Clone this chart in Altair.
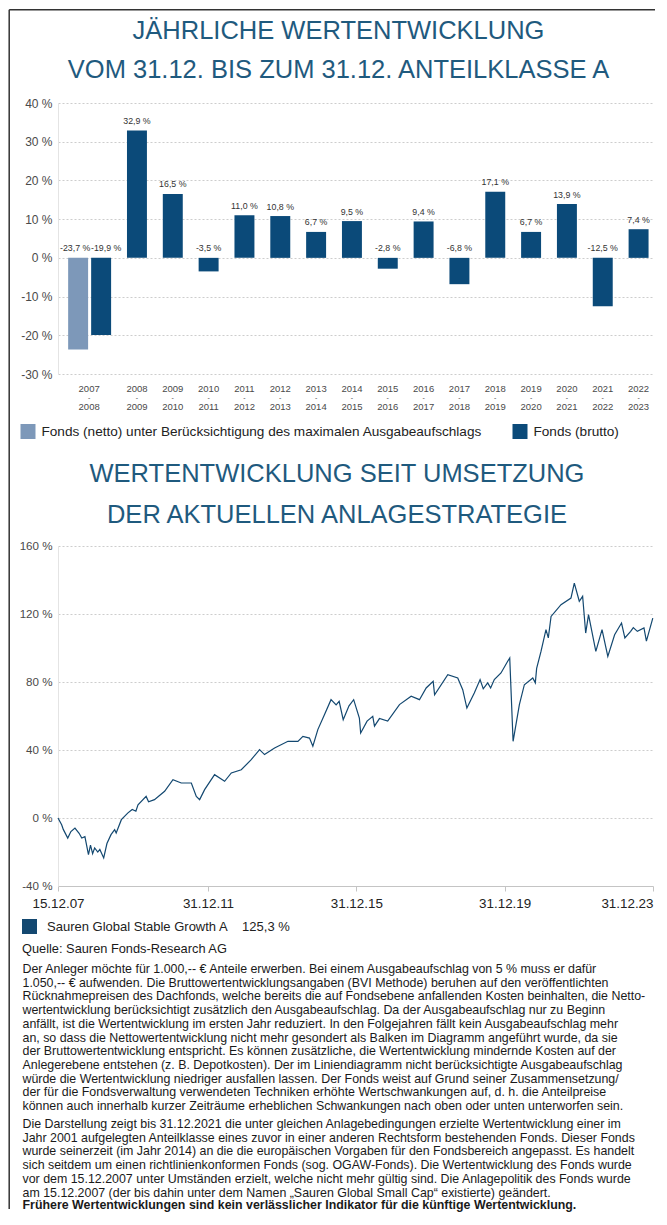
import altair as alt
import pandas as pd

# ---------------- data ----------------
PERIODS = ["2007-2008", "2008-2009", "2009-2010", "2010-2011", "2011-2012", "2012-2013",
           "2013-2014", "2014-2015", "2015-2016", "2016-2017", "2017-2018", "2018-2019",
           "2019-2020", "2020-2021", "2021-2022", "2022-2023"]
BRUTTO = [-19.9, 32.9, 16.5, -3.5, 11.0, 10.8, 6.7, 9.5, -2.8, 9.4, -6.8, 17.1, 6.7, 13.9, -12.5, 7.4]
NETTO_PERIODS = ["2007-2008"]
NETTO = [-23.7]
SERIES_NETTO = "Fonds (netto) unter Berücksichtigung des maximalen Ausgabeaufschlags"
SERIES_BRUTTO = "Fonds (brutto)"
BAR_TICKS = [-30, -20, -10, 0, 10, 20, 30, 40]

LINE_DATES = [
    "2007-12-15", "2008-01-20", "2008-02-05", "2008-03-20", "2008-04-20", "2008-05-30",
    "2008-07-10", "2008-08-05", "2008-09-05", "2008-10-10", "2008-10-30", "2008-11-20",
    "2008-12-10", "2009-01-10", "2009-01-30", "2009-03-09", "2009-04-10", "2009-05-20",
    "2009-06-25", "2009-07-10", "2009-08-30", "2009-11-03", "2009-12-15", "2010-01-20",
    "2010-02-10", "2010-05-01", "2010-05-25", "2010-07-22", "2010-10-30", "2011-01-20",
    "2011-04-12", "2011-07-20", "2011-09-07", "2011-10-10", "2011-11-28", "2012-03-05",
    "2012-06-12", "2012-08-17", "2012-11-23", "2013-03-01", "2013-05-22", "2013-07-10",
    "2013-10-17", "2014-02-26", "2014-06-04", "2014-07-23", "2014-09-26", "2014-10-29",
    "2014-12-17", "2015-02-20", "2015-04-26", "2015-06-15", "2015-07-15", "2015-08-24",
    "2015-10-20", "2015-12-05", "2016-01-30", "2016-02-12", "2016-04-15", "2016-06-10",
    "2016-06-27", "2016-08-15", "2016-11-04", "2017-02-28", "2017-06-23", "2017-09-13",
    "2017-11-18", "2018-01-26", "2018-02-09", "2018-06-19", "2018-09-25", "2018-11-13",
    "2018-12-24", "2019-03-07", "2019-05-03", "2019-06-03", "2019-07-17", "2019-08-15",
    "2019-09-20", "2019-11-25", "2020-01-30", "2020-02-19", "2020-03-23", "2020-05-24",
    "2020-07-12", "2020-10-03", "2020-10-28", "2020-11-10", "2020-12-23", "2021-02-10",
    "2021-03-05", "2021-04-01", "2021-07-08", "2021-10-14", "2021-11-16", "2022-01-04",
    "2022-02-06", "2022-03-08", "2022-04-05", "2022-06-16", "2022-08-16", "2022-10-12",
    "2022-12-18", "2023-02-24", "2023-03-29", "2023-05-25", "2023-06-20", "2023-07-30",
    "2023-10-03", "2023-10-27", "2023-12-29"]
LINE_VALUES = [
    0.0, -4.0, -6.7, -11.8, -8.0, -5.9,
    -9.0, -11.8, -11.0, -21.5, -16.0, -21.0,
    -17.6, -20.0, -18.5, -23.5, -15.0, -9.8,
    -6.9, -8.8, -1.0, 3.0, 5.0, 4.0,
    7.8, 12.7, 9.5, 10.8, 15.7, 22.5,
    20.6, 20.6, 12.7, 10.8, 16.7, 25.5,
    21.6, 26.5, 28.4, 34.3, 40.2, 37.3,
    41.2, 45.1, 45.1, 48.0, 47.0, 42.2,
    52.0, 60.8, 69.6, 66.5, 68.6, 57.8,
    66.0, 69.6, 58.8, 50.0, 57.0, 59.8,
    54.0, 58.5, 57.0, 66.7, 71.6, 69.6,
    76.5, 80.4, 72.5, 84.3, 82.4, 75.5,
    64.7, 73.5, 81.4, 76.0, 79.5, 76.5,
    81.4, 85.3, 92.2, 94.1, 45.1, 66.7,
    78.4, 82.4, 79.5, 88.0, 98.0, 110.8,
    106.0, 118.6, 125.5, 129.4, 138.2, 127.5,
    130.4, 108.8, 119.6, 98.0, 110.8, 95.1,
    107.8, 114.7, 105.9, 109.8, 112.0, 109.8,
    111.8, 104.0, 117.6]
LINE_NAME = "Sauren Global Stable Growth A"
LINE_TOTAL = "125,3 %"
LINE_Y_TICKS = [-40, 0, 40, 80, 120, 160]

TITLE1 = ["JÄHRLICHE WERTENTWICKLUNG", "VOM 31.12. BIS ZUM 31.12. ANTEILKLASSE A"]
TITLE2 = ["WERTENTWICKLUNG SEIT UMSETZUNG", "DER AKTUELLEN ANLAGESTRATEGIE"]
SOURCE = ["Quelle: Sauren Fonds-Research AG"]
PARA1 = [
    "Der Anleger möchte für 1.000,-- € Anteile erwerben. Bei einem Ausgabeaufschlag von 5 % muss er dafür",
    "1.050,-- € aufwenden. Die Bruttowertentwicklungsangaben (BVI Methode) beruhen auf den veröffentlichten",
    "Rücknahmepreisen des Dachfonds, welche bereits die auf Fondsebene anfallenden Kosten beinhalten, die Netto-",
    "wertentwicklung berücksichtigt zusätzlich den Ausgabeaufschlag. Da der Ausgabeaufschlag nur zu Beginn",
    "anfällt, ist die Wertentwicklung im ersten Jahr reduziert. In den Folgejahren fällt kein Ausgabeaufschlag mehr",
    "an, so dass die Nettowertentwicklung nicht mehr gesondert als Balken im Diagramm angeführt wurde, da sie",
    "der Bruttowertentwicklung entspricht. Es können zusätzliche, die Wertentwicklung mindernde Kosten auf der",
    "Anlegerebene entstehen (z. B. Depotkosten). Der im Liniendiagramm nicht berücksichtigte Ausgabeaufschlag",
    "würde die Wertentwicklung niedriger ausfallen lassen. Der Fonds weist auf Grund seiner Zusammensetzung/",
    "der für die Fondsverwaltung verwendeten Techniken erhöhte Wertschwankungen auf, d. h. die Anteilpreise",
    "können auch innerhalb kurzer Zeiträume erheblichen Schwankungen nach oben oder unten unterworfen sein.",
]
PARA2 = [
    "Die Darstellung zeigt bis 31.12.2021 die unter gleichen Anlagebedingungen erzielte Wertentwicklung einer im",
    "Jahr 2001 aufgelegten Anteilklasse eines zuvor in einer anderen Rechtsform bestehenden Fonds. Dieser Fonds",
    "wurde seinerzeit (im Jahr 2014) an die die europäischen Vorgaben für den Fondsbereich angepasst. Es handelt",
    "sich seitdem um einen richtlinienkonformen Fonds (sog. OGAW-Fonds).  Die Wertentwicklung des Fonds wurde",
    "vor dem 15.12.2007 unter Umständen erzielt, welche nicht mehr gültig sind. Die Anlagepolitik des Fonds wurde",
    "am 15.12.2007 (der bis dahin unter dem Namen „Sauren Global Small Cap“ existierte) geändert.",
]
DISCLAIMER = ["Frühere Wertentwicklungen sind kein verlässlicher Indikator für die künftige Wertentwicklung."]

# ---------------- styles ----------------
BRUTTO_C = "#0b4a79"
NETTO_C = "#7d98b9"
LINE_C = "#134870"
TITLE_C = "#1f5a7e"
GRID_C = "#cdcdcd"
FRAME_C = "#333333"
TITLE_FONT = "Liberation Sans, Arial, sans-serif"
FONT = "Liberation Sans, Arial, sans-serif"

BAR_W, BAR_H = 596, 271
LINE_W, LINE_H = 595, 340
one = alt.Data(values=[{"k": 0}])


def text_layer(lines, x, y, size, color="#1a1a1a", align="left", lh=13.7, weight="normal", font=FONT):
    # y is the centre of the first line
    return alt.Chart(one).mark_text(
        text=lines, align=align, baseline="middle", fontSize=size, lineHeight=lh,
        color=color, font=font, fontWeight=weight
    ).encode(x=alt.value(x), y=alt.value(y))


# ---------------- bar chart ----------------
bar_df = pd.DataFrame({"period": PERIODS, "value": BRUTTO, "series": SERIES_BRUTTO})
net_df = pd.DataFrame({"period": NETTO_PERIODS, "value": NETTO, "series": SERIES_NETTO})

x_bar = alt.X("period:N", sort=PERIODS,
              scale=alt.Scale(domain=PERIODS, paddingInner=0.443, paddingOuter=0.5385, align=0.859),
              axis=None)
y_scale = alt.Scale(domain=[-30, 40], nice=False)
y_axis = alt.Axis(values=BAR_TICKS, labelExpr="datum.value + ' %'", grid=True, gridDash=[2, 2],
                  gridColor=GRID_C, domainColor="#e4e4e4", ticks=False, labelPadding=6,
                  labelFontSize=12, labelColor="#4a4a4a", labelFont=FONT, title=None)
color_bar = alt.Color("series:N",
                      scale=alt.Scale(domain=[SERIES_NETTO, SERIES_BRUTTO], range=[NETTO_C, BRUTTO_C]),
                      legend=alt.Legend(orient="none", legendX=-37.5, legendY=321, direction="horizontal",
                                        title=None, symbolType="square", symbolSize=225,
                                        symbolStrokeWidth=0, labelFont=FONT, labelFontSize=13.6,
                                        labelColor="#222222", labelLimit=700, labelOffset=6,
                                        columnPadding=30))

brutto_bars = alt.Chart(bar_df).mark_bar().encode(
    x=x_bar, y=alt.Y("value:Q", scale=y_scale, axis=y_axis), color=color_bar)
netto_bars = alt.Chart(net_df).mark_bar(xOffset=-23).encode(
    x=x_bar, y=alt.Y("value:Q", scale=y_scale, axis=y_axis), color=color_bar)

lab_expr = "(datum.value < 0 ? '-' : '') + replace(format(abs(datum.value), '.1f'), '.', ',') + ' %'"


def value_labels(df, dx, flt=None):
    c = alt.Chart(df)
    if flt:
        c = c.transform_filter(flt)
    return c.transform_calculate(label=lab_expr, ypos="max(datum.value, 0)").mark_text(
        dy=-9.5, dx=dx, fontSize=8.8, color="#333333", font=FONT, baseline="middle"
    ).encode(x=x_bar, y=alt.Y("ypos:Q", scale=y_scale, axis=y_axis), text="label:N")


lab_rest = value_labels(bar_df, 0, f"datum.period != '{PERIODS[0]}'")
lab_first = value_labels(bar_df, 5, f"datum.period == '{PERIODS[0]}'")
lab_net = value_labels(net_df, -26)

period_years = "[split(datum.period, '-')[0], split(datum.period, '-')[1]]"


def period_labels(flt, dx):
    years = alt.Chart(bar_df).transform_filter(flt).transform_calculate(lines=period_years).mark_text(
        dx=dx, fontSize=9.5, lineHeight=18, color="#4a4a4a", font=FONT, baseline="middle"
    ).encode(x=x_bar, y=alt.value(BAR_H + 14.5), text="lines:N")
    dash = alt.Chart(bar_df).transform_filter(flt).mark_text(
        text="-", dx=dx, fontSize=7, color="#4a4a4a", font=FONT, baseline="middle"
    ).encode(x=x_bar, y=alt.value(BAR_H + 23.5))
    return [years, dash]


per_rest = period_labels(f"datum.period != '{PERIODS[0]}'", 0)
per_first = period_labels(f"datum.period == '{PERIODS[0]}'", -12)

title1 = text_layer(TITLE1, 280.5, -72, 25.5, color=TITLE_C, align="center", lh=39, font=TITLE_FONT)

# thin frame on the left and top edge of the sheet
frame_left = alt.Chart(one).mark_rule(color=FRAME_C, strokeWidth=1.5).encode(
    x=alt.value(-48.8), y=alt.value(-93.3), y2=alt.value(1106))
frame_top = alt.Chart(one).mark_rule(color=FRAME_C, strokeWidth=1.5).encode(
    x=alt.value(-48.8), x2=alt.value(597), y=alt.value(-93.3))

bar_chart = alt.layer(brutto_bars, netto_bars, lab_rest, lab_first, lab_net, *per_rest, *per_first,
                      title1, frame_left, frame_top).properties(width=BAR_W, height=BAR_H)

# ---------------- line chart ----------------
line_label = LINE_NAME + "\u00a0" * 4 + LINE_TOTAL
line_df = pd.DataFrame({"date": LINE_DATES, "value": LINE_VALUES, "series": line_label})

x_ticks = [alt.DateTime(year=2007, month=12, date=15, utc=True),
           alt.DateTime(year=2011, month=12, date=31, utc=True),
           alt.DateTime(year=2015, month=12, date=31, utc=True),
           alt.DateTime(year=2019, month=12, date=31, utc=True),
           alt.DateTime(year=2023, month=12, date=31, utc=True)]

line = alt.Chart(line_df).mark_line(strokeWidth=1.2).encode(
    x=alt.X("date:T",
            scale=alt.Scale(type="utc", domain=[x_ticks[0], x_ticks[-1]], nice=False),
            axis=alt.Axis(values=x_ticks, labelExpr="utcFormat(datum.value, '%d.%m.%y')",
                          labelAlign={"condition": {"test": "datum.value > utc(2023, 5, 1)", "value": "right"},
                                      "value": "center"},
                          grid=False, domainColor="#c4c4c4", tickColor="#c4c4c4", tickSize=5,
                          labelFontSize=13.4, labelColor="#222222", labelFont=FONT, labelPadding=5,
                          title=None)),
    y=alt.Y("value:Q", scale=alt.Scale(domain=[-40, 160], nice=False),
            axis=alt.Axis(values=LINE_Y_TICKS, labelExpr="datum.value + ' %'", grid=True,
                          gridDash=[2, 2], gridColor=GRID_C, domainColor="#e4e4e4", ticks=False,
                          labelPadding=6, labelFontSize=11.6, labelColor="#4a4a4a", labelFont=FONT,
                          title=None)),
    color=alt.Color("series:N", scale=alt.Scale(domain=[line_label], range=[LINE_C]),
                    legend=alt.Legend(orient="none", legendX=-36, legendY=373, title=None,
                                      symbolType="square", symbolSize=225, symbolFillColor=LINE_C,
                                      symbolStrokeColor=LINE_C, symbolStrokeWidth=0,
                                      labelFont=FONT, labelFontSize=13, labelColor="#222222",
                                      labelLimit=700, labelOffset=10)),
)

title2 = text_layer(TITLE2, 279, -72, 25.5, color=TITLE_C, align="center", lh=41, font=TITLE_FONT)
source = text_layer(SOURCE, -36, 403, 12.8)
para1 = text_layer(PARA1, -35.5, 423, 12.4)
para2 = text_layer(PARA2, -35.5, 578, 12.4)
discl = text_layer(DISCLAIMER, -35.5, 659, 12.4, weight="bold")

line_chart = alt.layer(line, title2, source, para1, para2, discl).properties(width=LINE_W, height=LINE_H)

chart = alt.vconcat(bar_chart, line_chart, spacing=172, bounds="flush").resolve_scale(
    color="independent"
).resolve_legend(color="independent").properties(
    padding={"left": 0, "top": 0, "right": 0, "bottom": 0},
    background="white",
).configure_view(stroke=None)

chart.save("out.html", embed_options={"renderer": "svg", "actions": False})
